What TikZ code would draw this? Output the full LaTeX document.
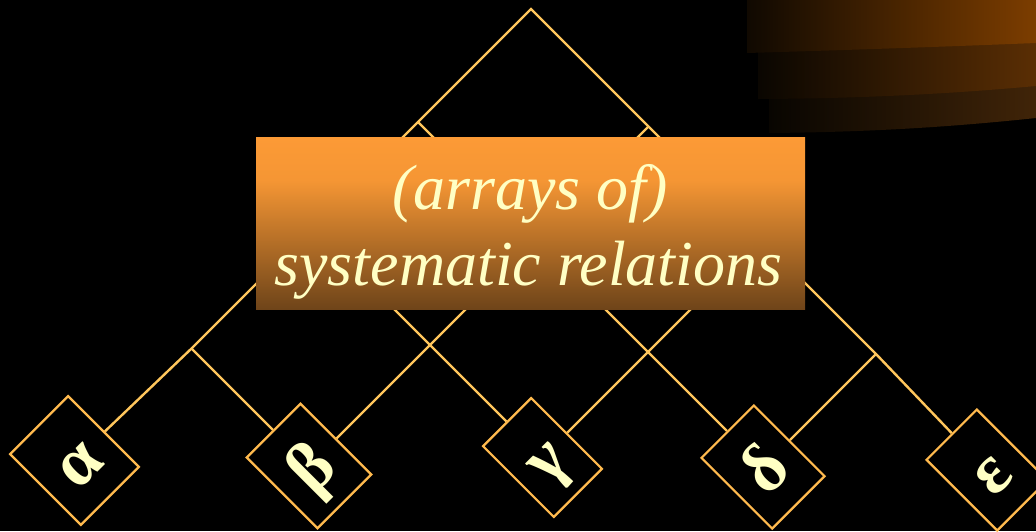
\documentclass[tikz,border=0pt]{standalone}
\usepackage{fontspec}
\setmainfont{Liberation Serif}
\definecolor{linec}{RGB}{255,198,92}
\definecolor{boxc}{RGB}{255,186,78}
\definecolor{cream}{RGB}{255,255,196}
\definecolor{relbot}{RGB}{110,68,25}
\definecolor{relmid}{RGB}{245,150,52}
\definecolor{reltop}{RGB}{252,154,54}
\definecolor{bandA}{RGB}{124,61,0}
\definecolor{bandAl}{RGB}{16,9,1}
\definecolor{bandB}{RGB}{90,46,4}
\definecolor{bandBl}{RGB}{10,6,1}
\definecolor{bandC}{RGB}{64,36,8}
\definecolor{bandCl}{RGB}{8,5,1}
\pgfdeclareverticalshading{relshade}{100bp}{color(0bp)=(relbot); color(25bp)=(relbot); color(62.5bp)=(relmid); color(75bp)=(reltop); color(100bp)=(reltop)}
\begin{document}
\begin{tikzpicture}[x=1pt,y=-1pt,
  link/.style={draw=linec, line width=2.4pt, line join=miter},
  leaf/.style={draw=boxc, line width=2.2pt, fill=black, rotate=45,
    minimum height=100pt, inner sep=0pt, text height=50pt, text depth=0pt,
    font=\fontsize{70}{70}\selectfont\bfseries, text=cream},
  relbox/.style={shading=relshade, minimum width=549pt, minimum height=172.5pt, inner sep=0pt},
  reltext/.style={anchor=base, text=cream, inner sep=0pt, font=\fontsize{64}{76}\selectfont\itshape}]
\useasboundingbox (0,0) rectangle (1036,531);
\fill[black] (0,0) rectangle (1036,531);
% decorative bands
\shade[left color=bandCl, right color=bandC] (769,0) -- (769,133) .. controls (880,132) and (960,126) .. (1036,118) -- (1036,0) -- cycle;
\shade[left color=bandBl, right color=bandB] (758,0) -- (758,99) .. controls (870,98.5) and (960,93) .. (1036,86) -- (1036,0) -- cycle;
\shade[left color=bandAl, right color=bandA] (747,0) -- (747,53) .. controls (850,50) and (950,46.5) .. (1036,43) -- (1036,0) -- cycle;
% leaves
\node[leaf, minimum width=82pt] (alpha) at (74.5,460.5) {α};
\node[leaf, minimum width=76pt] (beta) at (309,466) {β};
\node[leaf, minimum width=68pt] (gamma) at (542.5,457.5) {γ};
\node[leaf, minimum width=74pt] (delta) at (763,467) {δ};
\node[leaf, minimum width=71pt] (eps) at (987,470) {ε};
% junctions
\coordinate (A) at (531,9);
\coordinate (L1) at (418,122);
\coordinate (L2) at (312.5,227.5);
\coordinate (L3) at (191.5,348.5);
\coordinate (R1) at (648.5,126.5);
\coordinate (R2) at (761,239);
\coordinate (R3) at (876,354);
% connectors
\draw[link] (alpha) -- (L3) -- (L2) -- (L1) -- (A) -- (R1) -- (R2) -- (R3) -- (eps);
\draw[link] (L1) -- (delta);
\draw[link] (L2) -- (gamma);
\draw[link] (L3) -- (beta);
\draw[link] (R1) -- (beta);
\draw[link] (R2) -- (gamma);
\draw[link] (R3) -- (delta);
% title box
\node[relbox] (rel) at (530.5,223.25) {};
\node[reltext] (t1) at (530,209) {(arrays of)};
\node[reltext] (t2) at (528.5,285) {systematic relations};
\end{tikzpicture}
\end{document}
